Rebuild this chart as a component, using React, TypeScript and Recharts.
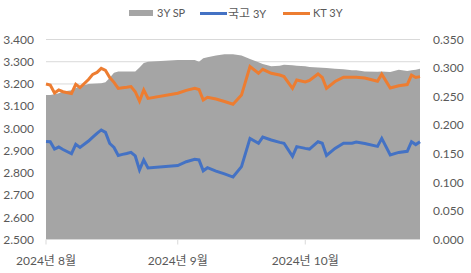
import React from 'react';
import { ComposedChart, Area, Line, XAxis, YAxis, CartesianGrid } from 'recharts';

const dates = [
  '2024-08-01', '2024-08-02', '2024-08-03', '2024-08-04', '2024-08-05', '2024-08-07', '2024-08-08', '2024-08-09',
  '2024-08-11', '2024-08-12', '2024-08-13', '2024-08-14', '2024-08-15', '2024-08-16', '2024-08-17', '2024-08-18',
  '2024-08-19', '2024-08-20', '2024-08-21', '2024-08-22', '2024-08-23', '2024-08-24', '2024-08-25',
  '2024-09-01', '2024-09-03', '2024-09-05', '2024-09-06', '2024-09-07', '2024-09-08', '2024-09-10', '2024-09-12',
  '2024-09-14', '2024-09-16', '2024-09-18', '2024-09-20', '2024-09-21', '2024-09-23', '2024-09-25', '2024-09-26',
  '2024-09-28', '2024-09-29', '2024-10-01', '2024-10-02', '2024-10-04', '2024-10-05', '2024-10-06', '2024-10-08',
  '2024-10-10', '2024-10-12', '2024-10-13', '2024-10-15', '2024-10-18', '2024-10-19', '2024-10-21', '2024-10-23',
  '2024-10-25', '2024-10-26', '2024-10-27', '2024-10-28',
];

const gov3y = [
  2.941, 2.940, 2.907, 2.916, 2.905, 2.886, 2.928, 2.914,
  2.943, 2.961, 2.978, 2.993, 2.982, 2.932, 2.914, 2.878,
  2.883, 2.887, 2.892, 2.876, 2.813, 2.858, 2.822,
  2.833, 2.850, 2.861, 2.858, 2.809, 2.823, 2.808, 2.795,
  2.781, 2.828, 2.955, 2.933, 2.961, 2.948, 2.937, 2.933,
  2.874, 2.918, 2.910, 2.907, 2.940, 2.933, 2.878, 2.910,
  2.933, 2.933, 2.939, 2.932, 2.919, 2.955, 2.880, 2.892,
  2.897, 2.940, 2.927, 2.940,
];

const kt3y = [
  3.200, 3.195, 3.159, 3.173, 3.165, 3.157, 3.198, 3.184,
  3.220, 3.243, 3.252, 3.270, 3.261, 3.229, 3.207, 3.180,
  3.183, 3.185, 3.188, 3.165, 3.123, 3.173, 3.135,
  3.158, 3.171, 3.180, 3.175, 3.128, 3.140, 3.132, 3.121,
  3.109, 3.150, 3.278, 3.248, 3.266, 3.248, 3.240, 3.233,
  3.180, 3.218, 3.209, 3.216, 3.245, 3.229, 3.180, 3.211,
  3.230, 3.230, 3.230, 3.227, 3.212, 3.244, 3.182, 3.192,
  3.197, 3.240, 3.229, 3.233,
];

const sp3y = [
  0.253, 0.253, 0.254, 0.256, 0.259, 0.261, 0.265, 0.268,
  0.272, 0.2725, 0.273, 0.2735, 0.275, 0.283, 0.292, 0.294,
  0.294, 0.294, 0.294, 0.294, 0.301, 0.309, 0.311,
  0.314, 0.314, 0.314, 0.311, 0.317, 0.319, 0.322, 0.324,
  0.324, 0.322, 0.316, 0.310, 0.307, 0.303, 0.304, 0.306,
  0.305, 0.304, 0.303, 0.302, 0.301, 0.3005, 0.300, 0.299,
  0.298, 0.296, 0.296, 0.294, 0.2935, 0.294, 0.293, 0.297,
  0.295, 0.296, 0.297, 0.299,
];

const monthTicks = ['2024-08-01', '2024-09-01', '2024-10-01'];
const monthLabels = ['2024년 8월', '2024년 9월', '2024년 10월'];
const leftTicks = [2.5, 2.6, 2.7, 2.8, 2.9, 3.0, 3.1, 3.2, 3.3, 3.4];
const rightTicks = [0, 0.05, 0.1, 0.15, 0.2, 0.25, 0.3, 0.35];
const startDate = '2024-08-01';
const endDate = '2024-10-28';

const dayOf = (s: string) => {
  const [y, m, d] = s.split('-').map(Number);
  const [y0, m0, d0] = startDate.split('-').map(Number);
  return Math.round((Date.UTC(y, m - 1, d) - Date.UTC(y0, m0 - 1, d0)) / 86400000);
};

const data = dates.map((d, i) => ({ t: dayOf(d), gov: gov3y[i], kt: kt3y[i], sp: sp3y[i] }));
const tickDays = monthTicks.map(dayOf);

const FONT = "Lato, 'Noto Sans CJK KR', sans-serif";
const TXT = '#595959';

export default function App() {
  return (
    <div style={{ position: 'absolute', left: 0, top: 0, width: 471, height: 273, background: '#fff', fontFamily: FONT }}>
      <ComposedChart width={471} height={273} data={data} margin={{ top: 39.5, right: 0, bottom: 0, left: 0 }}>
        <CartesianGrid horizontal vertical={false} stroke="#D9D9D9" />
        <XAxis
          dataKey="t"
          type="number"
          domain={[0, dayOf(endDate)]}
          ticks={tickDays}
          interval={0}
          tickFormatter={(v: number) => monthLabels[tickDays.indexOf(v)] ?? ''}
          height={33.5}
          stroke="#D9D9D9"
          tickSize={5}
          tickMargin={12}
          tick={{ fill: TXT, fontSize: 12, fontFamily: FONT }}
        />
        <YAxis
          yAxisId={0}
          domain={[2.5, 3.4]}
          ticks={leftTicks}
          interval={0}
          width={46}
          axisLine={false}
          tickLine={false}
          tickSize={0}
          tickMargin={12}
          tickFormatter={(v: number) => v.toFixed(3)}
          tick={{ fill: TXT, fontSize: 12, fontFamily: FONT }}
        />
        <YAxis
          yAxisId="right"
          orientation="right"
          domain={[0, 0.35]}
          ticks={rightTicks}
          interval={0}
          width={51}
          axisLine={false}
          tickLine={false}
          tickSize={0}
          tickMargin={13}
          tickFormatter={(v: number) => v.toFixed(3)}
          tick={{ fill: TXT, fontSize: 12, fontFamily: FONT }}
        />
        <Area yAxisId="right" type="linear" dataKey="sp" fill="#A5A5A5" fillOpacity={1} stroke="none" isAnimationActive={false} />
        <Line yAxisId={0} type="linear" dataKey="gov" stroke="#4472C4" strokeWidth={3} dot={false} isAnimationActive={false} />
        <Line yAxisId={0} type="linear" dataKey="kt" stroke="#ED7D31" strokeWidth={3} dot={false} isAnimationActive={false} />
      </ComposedChart>
      <div style={{ position: 'absolute', left: 129, top: 10, width: 24, height: 6, background: '#A5A5A5' }} />
      <div style={{ position: 'absolute', left: 157, top: 5, fontSize: 11, color: TXT, lineHeight: '16px', whiteSpace: 'nowrap' }}>3Y SP</div>
      <div style={{ position: 'absolute', left: 200, top: 12, width: 27, height: 3, background: '#4472C4' }} />
      <div style={{ position: 'absolute', left: 228, top: 5, fontSize: 11, color: TXT, lineHeight: '16px', whiteSpace: 'nowrap' }}>
        <span style={{ fontFamily: "'Noto Sans CJK KR'", fontSize: 12 }}>국고</span> 3Y
      </div>
      <div style={{ position: 'absolute', left: 283, top: 12, width: 27, height: 3, background: '#ED7D31' }} />
      <div style={{ position: 'absolute', left: 313, top: 5, fontSize: 11, color: TXT, lineHeight: '16px', whiteSpace: 'nowrap' }}>KT 3Y</div>
    </div>
  );
}
